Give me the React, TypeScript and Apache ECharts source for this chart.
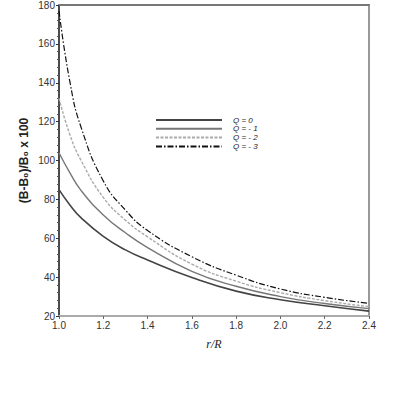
import React, { useEffect, useRef } from "react";
import * as echarts from "echarts";

const rValues = [1.0, 1.05, 1.1, 1.2, 1.3, 1.4, 1.6, 1.8, 2.0, 2.2, 2.4];
const q0 = [85, 77, 70.5, 61, 54, 48.8, 39.8, 32.8, 28.4, 25.3, 22.5];
const q1 = [104, 93.5, 84.5, 72, 62.8, 55.2, 43, 35.3, 30, 26.4, 23.8];
const q2 = [132, 113, 100, 81, 69.3, 60.7, 46.7, 37.9, 32, 27.9, 24.8];
const q3 = [177, 140, 117, 89.5, 74.5, 64, 50.5, 41, 33.9, 29.6, 26.5];
const seriesNames = ["Q = 0", "Q = - 1", "Q = - 2", "Q = - 3"];

export default function App() {
  const ref = useRef<HTMLDivElement>(null);
  useEffect(() => {
    if (!ref.current) return;
    const chart = echarts.init(ref.current, undefined, { renderer: "svg" });
    const pair = (arr: number[]) => rValues.map((r, i) => [r, arr[i]]);
    const styles = [
      { color: "#444", width: 1.6, type: "solid" as any },
      { color: "#777", width: 1.4, type: "solid" as any },
      { color: "#aaa", width: 1.4, type: [3, 1.5] as any },
      { color: "#111", width: 1.2, type: [6, 2, 1.5, 2] as any },
    ];
    const data = [q0, q1, q2, q3];
    const labelStyle = { color: "#333", fontSize: 10, fontFamily: "Liberation Sans, Arial, sans-serif" };
    chart.setOption({
      animation: false,
      backgroundColor: "#fff",
      grid: { left: 59, right: 46, top: 5, bottom: 99 },
      legend: {
        orient: "vertical",
        left: 150,
        top: 111,
        itemWidth: 66,
        itemHeight: 8,
        itemGap: 0.8,
        data: seriesNames,
        itemStyle: { opacity: 0 },
        textStyle: { fontSize: 8, fontStyle: "italic", color: "#222", fontFamily: "Liberation Sans, Arial, sans-serif", padding: [0, 0, 0, 6] },
      },
      xAxis: [
        {
          type: "value",
          min: 1.0,
          max: 2.4,
          interval: 0.2,
          name: "r/R",
          nameLocation: "middle",
          nameGap: 22,
          nameTextStyle: { fontFamily: "Liberation Serif, serif", fontStyle: "italic", fontSize: 12, color: "#222" },
          axisLine: { lineStyle: { color: "#aaa", width: 2 } },
          axisTick: { show: true, inside: false, length: 3, lineStyle: { color: "#666" } },
          minorTick: { show: false },
          splitLine: { show: false },
          axisLabel: { ...labelStyle, margin: 4, formatter: (v: number) => v.toFixed(1) },
        },
        {
          type: "value",
          position: "top",
          min: 1.0,
          max: 2.4,
          interval: 0.2,
          axisLine: { show: true, lineStyle: { color: "#777", width: 2 } },
          axisTick: { show: false },
          axisLabel: { show: false },
          splitLine: { show: false },
        },
      ],
      yAxis: [
        {
          type: "value",
          min: 20,
          max: 180,
          interval: 20,
          name: "(B-B\u2080)/B\u2080 x 100",
          nameLocation: "middle",
          nameGap: 29,
          nameMoveOverlap: false,
          nameTextStyle: { fontFamily: "Liberation Sans, Arial, sans-serif", fontWeight: "bold", fontSize: 12, color: "#222" },
          axisLine: { show: true, lineStyle: { color: "#111", width: 1.5 } },
          axisTick: { show: true, inside: false, length: 3, lineStyle: { color: "#333" } },
          minorTick: { show: true, splitNumber: 5, length: 2, lineStyle: { color: "#555" } },
          splitLine: { show: false },
          axisLabel: { ...labelStyle, margin: 4 },
        },
        {
          type: "value",
          position: "right",
          min: 20,
          max: 180,
          interval: 20,
          axisLine: { show: true, lineStyle: { color: "#999", width: 2 } },
          axisTick: { show: false },
          axisLabel: { show: false },
          splitLine: { show: false },
        },
      ],
      series: data.map((d, i) => ({
        name: seriesNames[i],
        type: "line",
        data: pair(d),
        smooth: 0.5,
        symbol: "none",
        lineStyle: styles[i],
        itemStyle: { color: styles[i].color },
      })),
    });
    return () => chart.dispose();
  }, []);
  return <div ref={ref} style={{ width: 415, height: 415, position: "absolute", left: 0, top: 0 }} />;
}
